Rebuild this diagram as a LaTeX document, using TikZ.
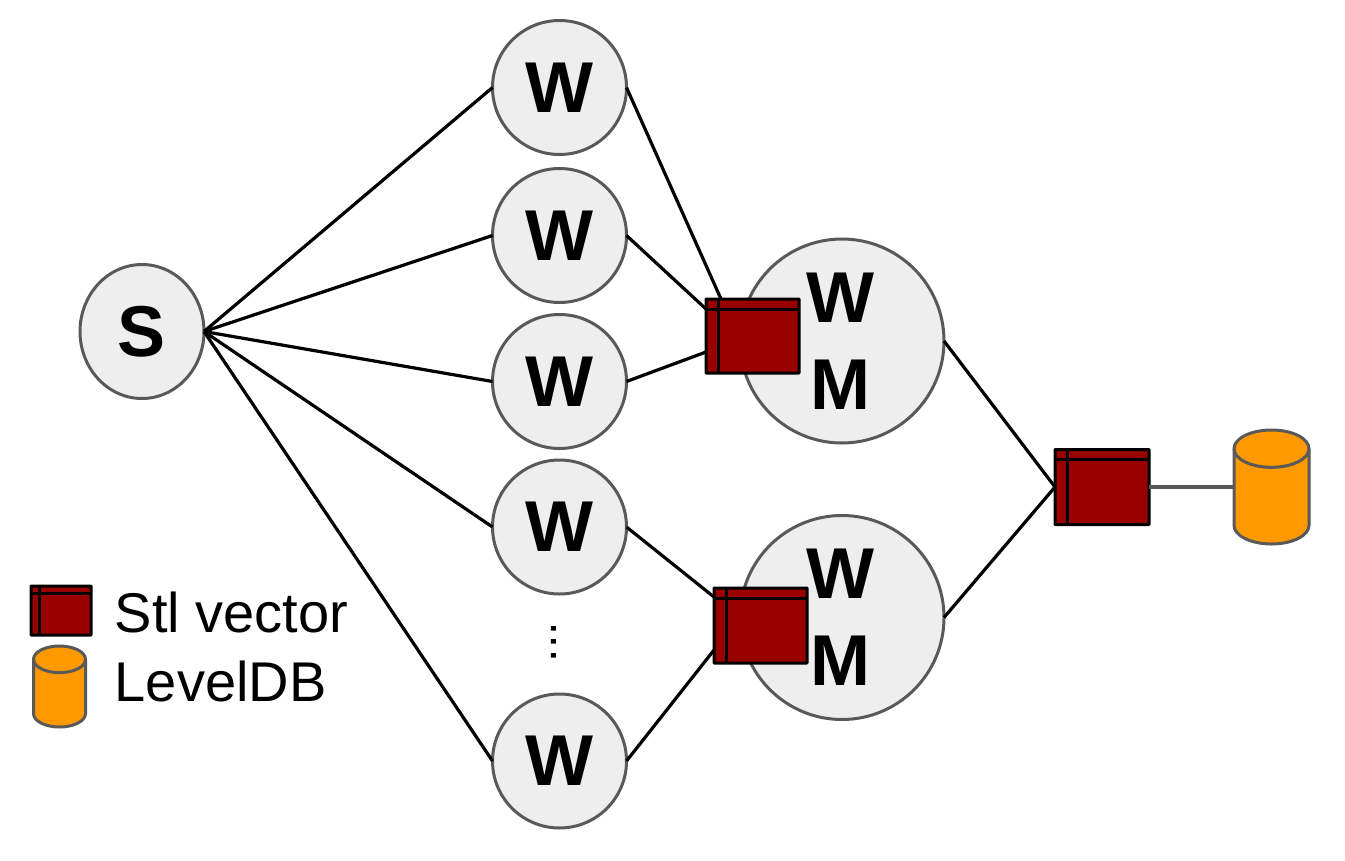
\documentclass[tikz,border=0pt]{standalone}
\usepackage{fontspec}
\setmainfont{Liberation Sans}
\usetikzlibrary{calc}
\definecolor{nodegray}{HTML}{EEEEEE}
\definecolor{edgegray}{HTML}{595959}
\definecolor{vecred}{HTML}{990000}
\definecolor{dborange}{HTML}{FF9900}
\usetikzlibrary{shapes.geometric}
\tikzset{
  px/.style={x=0.75pt,y=-0.75pt},
  conn/.style={black,line width=2.4pt},
  circ/.style={circle,draw=edgegray,fill=nodegray,line width=2.25pt,inner sep=0pt,outer sep=0pt,font=\bfseries\fontsize{54}{54}\selectfont},
  wnode/.style={circ,minimum size=100.5pt},
  wmnode/.style={circ,minimum size=153pt,align=center,font=\bfseries\fontsize{54}{65}\selectfont},
  snode/.style={ellipse,draw=edgegray,fill=nodegray,line width=2.25pt,inner sep=0pt,outer sep=0pt,minimum width=93pt,minimum height=100.5pt,font=\bfseries\fontsize{54}{54}\selectfont},
  vecbox/.style n args={4}{rectangle,draw=black,fill=vecred,line width=2.25pt,inner sep=0pt,outer sep=0pt,rounded corners=0.4pt,
    minimum width=#1*0.75pt,minimum height=#2*0.75pt,
    path picture={\draw[black,line width=2.25pt]
      ([xshift=#3*0.75pt]path picture bounding box.north west) -- ([xshift=#3*0.75pt]path picture bounding box.south west)
      ([yshift=-#4*0.75pt]path picture bounding box.north west) -- ([yshift=-#4*0.75pt]path picture bounding box.north east);}},
  dbframe/.style n args={2}{rectangle,inner sep=0pt,outer sep=0pt,minimum width=#1*0.75pt,minimum height=#2*0.75pt},
  dbline/.style={draw=edgegray,line width=2.25pt},
  lbl/.style={anchor=west,inner sep=0pt,font=\fontsize{42}{42}\selectfont}
}
% draws the can inside a named frame node: #1 node, #2 radius y in pt
\newcommand{\dbcan}[2]{%
  \path let \p1=(#1.north west), \p2=(#1.south east), \n1={(\x2-\x1)/2} in
    [fill=dborange,dbline]
    (\x1,\y1-#2pt) arc[start angle=180,end angle=0,x radius=\n1,y radius=#2pt]
    -- (\x2,\y2+#2pt) arc[start angle=360,end angle=180,x radius=\n1,y radius=#2pt] -- cycle;
  \path let \p1=(#1.north west), \p2=(#1.south east), \n1={(\x2-\x1)/2} in
    [dbline]
    (\x1,\y1-#2pt) arc[start angle=180,end angle=360,x radius=\n1,y radius=#2pt];}
\begin{document}
\begin{tikzpicture}[px]
\useasboundingbox (0,0) rectangle (1345,860);
\coordinate (b1a) at (721,299);
\coordinate (b1b) at (706,309);
\coordinate (b1c) at (706,352);
\coordinate (b2a) at (714,597);
\coordinate (b2b) at (714,650);
\coordinate (b3w) at (1055,487);
\node[snode] (s) at (142,331.5) {S};
\node[wnode] (w1) at (559.5,87.5) {W};
\node[wnode] (w2) at (559.5,235.5) {W};
\node[wnode] (w3) at (559.5,381.5) {W};
\node[wnode] (w4) at (559.5,527) {W};
\node[wnode] (w5) at (559.5,761) {W};
\node[wmnode] (m1) at (842,341) {W\hspace*{3pt}\\M\hspace*{3pt}};
\node[wmnode] (m2) at (842,617.5) {W\hspace*{3pt}\\M\hspace*{3pt}};
\node[font=\fontsize{36}{36}\selectfont,rotate=90,inner sep=0pt] (dots) at (553.5,642) {...};
\foreach \t in {w1,w2,w3,w4,w5} \draw[conn] (s.east) -- (\t.west);
\draw[conn] (w1.east) -- (b1a);
\draw[conn] (w2.east) -- (b1b);
\draw[conn] (w3.east) -- (b1c);
\draw[conn] (w4.east) -- (b2a);
\draw[conn] (w5.east) -- (b2b);
\draw[conn] (m1.east) -- (b3w);
\draw[conn] (m2.east) -- (b3w);
\node[vecbox={93}{74}{12}{10}] (v1) at (752.5,336) {};
\node[vecbox={93}{75}{12}{10}] (v2) at (760.5,625.5) {};
\node[vecbox={94}{75}{12}{10}] (v3) at (1102,487) {};
\node[dbframe={75}{114}] (d1) at (1271.5,487) {};
\dbcan{d1}{14}
\draw[edgegray,line width=2.4pt] (v3.east) -- (d1.west);
\node[vecbox={60}{49}{8}{7}] (lv) at (61,610.5) {};
\node[dbframe={52}{81}] (ld) at (59.5,686.5) {};
\dbcan{ld}{10}
\node[lbl] (t1) at (114.5,612) {Stl vector};
\node[lbl] (t2) at (114.5,681) {LevelDB};
\end{tikzpicture}
\end{document}
